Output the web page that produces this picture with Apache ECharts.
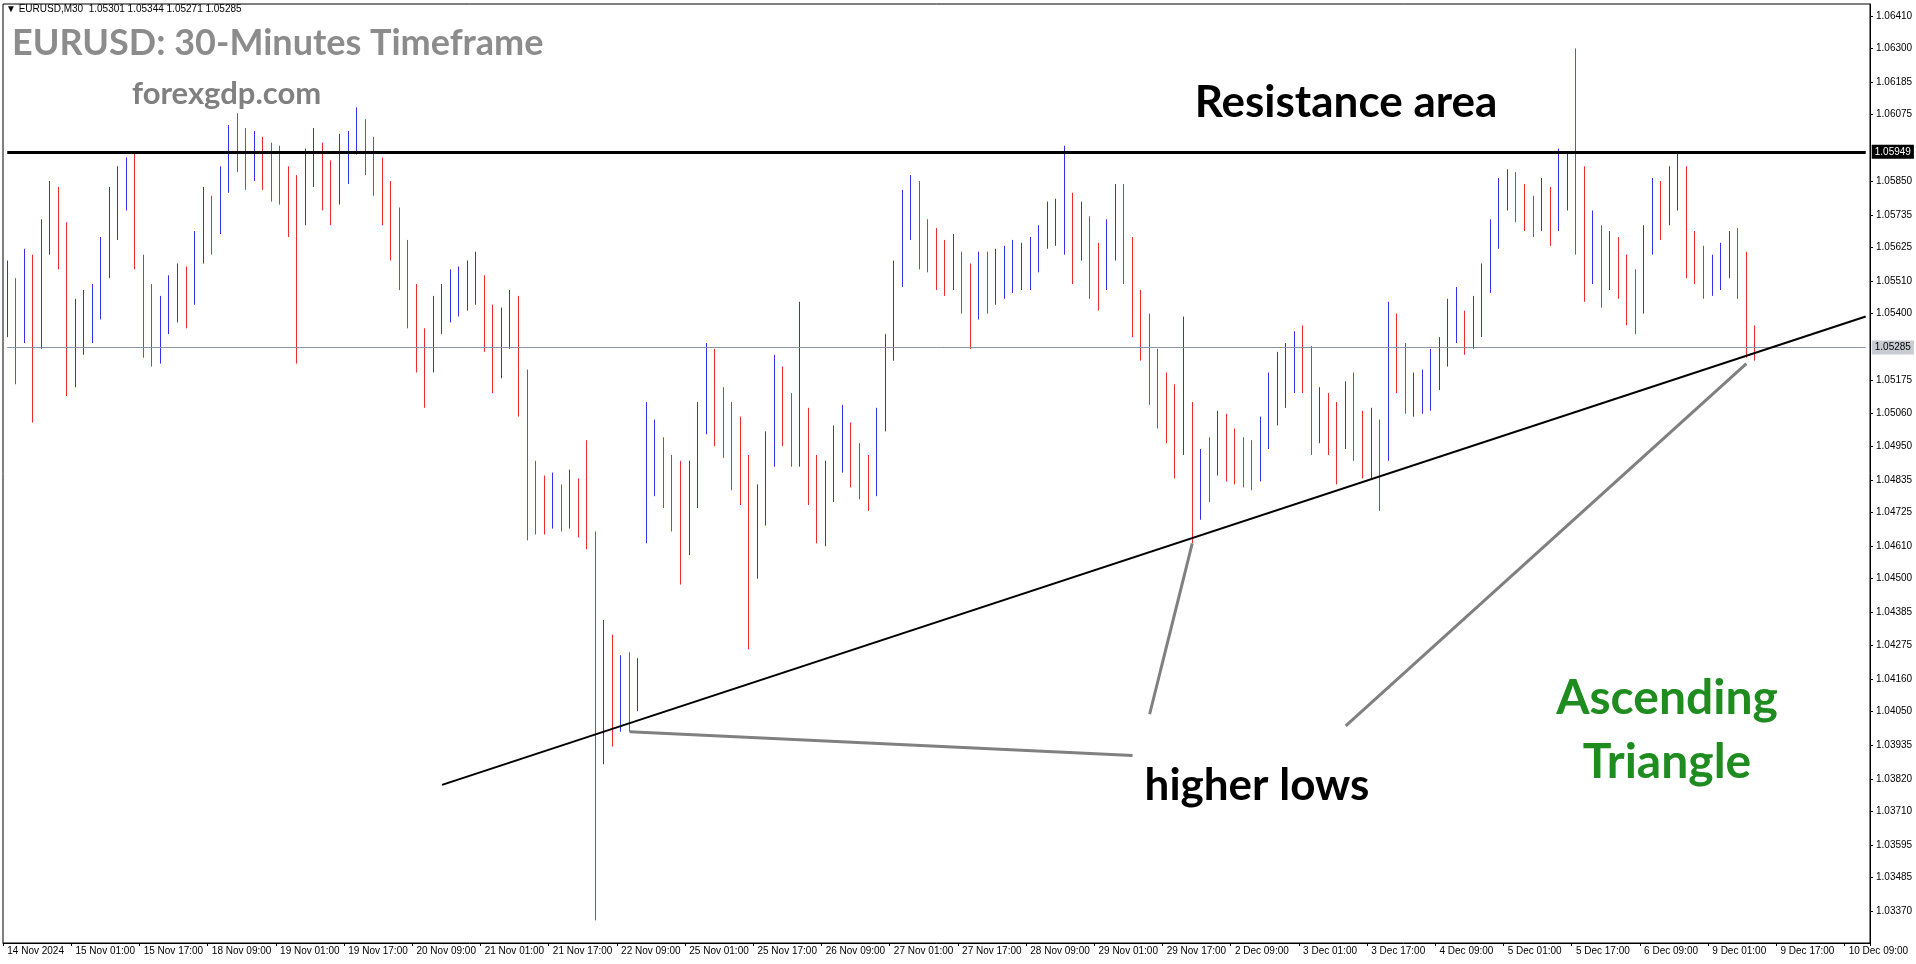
<!DOCTYPE html>
<html lang="en">
<head>
<meta charset="UTF-8">
<title>EURUSD M30</title>
<script src="https://cdn.jsdelivr.net/npm/echarts@6/dist/echarts.min.js"></script>
<style>
    html, body { margin: 0; padding: 0; background: #fff; }
    #chart { width: 1916px; height: 964px; }
</style>
</head>
<body>
<div id="chart"></div>
<script>
    // 2-hour bars
    const closes = [
        1.0546,1.0535,1.0557,1.0530,1.0567,1.0580,1.0569,1.0522,
        1.0533,1.0539,1.0541,1.0555,1.0571,1.0584,1.0590,1.0574,
        1.0546,1.0530,1.0537,1.0544,1.0548,1.0545,1.0561,1.0577,
        1.0571,1.0583,1.0600,1.0598,1.0596,1.0597,1.0593,1.0590,
        1.0588,1.0576,1.0570,1.0591,1.0595,1.0586,1.0580,1.0595,
        1.0597,1.0604,1.0597,1.0590,1.0582,1.0571,1.0563,1.0550,
        1.0535,1.0524,1.0538,1.0543,1.0547,1.0548,1.0551,1.0553,
        1.0540,1.0521,1.0533,1.0540,1.0518,1.0483,1.0478,1.0474,
        1.0478,1.0474,1.0481,1.0474,1.0466,1.0413,1.0429,1.0405,
        1.0418,1.0413,1.0419,1.0488,1.0492,1.0488,1.0483,1.0463,
        1.0475,1.0502,1.0523,1.0509,1.0505,1.0497,1.0489,1.0448,
        1.0471,1.0492,1.0517,1.0509,1.0500,1.0505,1.0488,1.0476,
        1.0480,1.0496,1.0500,1.0492,1.0488,1.0480,1.0505,1.0526,
        1.0551,1.0575,1.0579,1.0567,1.0563,1.0559,1.0555,1.0559,
        1.0551,1.0542,1.0555,1.0551,1.0553,1.0555,1.0557,1.0557,
        1.0559,1.0565,1.0571,1.0571,1.0575,1.0563,1.0569,1.0559,
        1.0555,1.0563,1.0575,1.0563,1.0542,1.0534,1.0521,1.0513,
        1.0509,1.0496,1.0513,1.0471,1.0492,1.0488,1.0500,1.0496,
        1.0492,1.0490,1.0486,1.0496,1.0513,1.0513,1.0521,1.0526,
        1.0525,1.0505,1.0509,1.0505,1.0496,1.0509,1.0505,1.0492,
        1.0496,1.0488,1.0534,1.0526,1.0513,1.0513,1.0513,1.0521,
        1.0525,1.0534,1.0538,1.0534,1.0538,1.0550,1.0567,1.0579,
        1.0584,1.0580,1.0575,1.0573,1.0580,1.0571,1.0584,1.0588,
        1.0580,1.0555,1.0563,1.0550,1.0559,1.0555,1.0546,1.0538,
        1.0563,1.0580,1.0575,1.0584,1.0588,1.0563,1.0559,1.0553,
        1.0553,1.0557,1.0561,1.0559,1.0534,1.0528
    ];
    const lows = [
        1.0532,1.0516,1.0530,1.0503,1.0528,1.0560,1.0555,1.0512,
        1.0515,1.0526,1.0530,1.0538,1.0552,1.0565,1.0575,1.0555,
        1.0525,1.0522,1.0523,1.0533,1.0537,1.0535,1.0543,1.0557,
        1.0560,1.0567,1.0581,1.0588,1.0582,1.0585,1.0582,1.0578,
        1.0577,1.0566,1.0523,1.0570,1.0583,1.0575,1.0570,1.0577,
        1.0584,1.0594,1.0587,1.0580,1.0570,1.0558,1.0548,1.0535,
        1.0520,1.0508,1.0520,1.0533,1.0537,1.0539,1.0541,1.0543,
        1.0527,1.0513,1.0518,1.0528,1.0505,1.0463,1.0465,1.0465,
        1.0467,1.0466,1.0467,1.0464,1.0460,1.0334,1.0387,1.0393,
        1.0398,1.0398,1.0405,1.0462,1.0478,1.0474,1.0466,1.0448,
        1.0458,1.0474,1.0499,1.0495,1.0491,1.0480,1.0475,1.0426,
        1.0450,1.0468,1.0488,1.0495,1.0488,1.0488,1.0475,1.0462,
        1.0461,1.0476,1.0486,1.0481,1.0477,1.0473,1.0478,1.0500,
        1.0524,1.0549,1.0565,1.0555,1.0554,1.0548,1.0546,1.0548,
        1.0540,1.0528,1.0538,1.0540,1.0543,1.0545,1.0547,1.0548,
        1.0548,1.0554,1.0562,1.0563,1.0560,1.0550,1.0558,1.0545,
        1.0541,1.0548,1.0558,1.0550,1.0532,1.0524,1.0509,1.0501,
        1.0496,1.0484,1.0492,1.0462,1.0470,1.0476,1.0485,1.0483,
        1.0482,1.0481,1.0480,1.0483,1.0494,1.0502,1.0508,1.0513,
        1.0513,1.0492,1.0496,1.0492,1.0482,1.0494,1.0490,1.0484,
        1.0484,1.0473,1.0490,1.0513,1.0506,1.0505,1.0506,1.0507,
        1.0514,1.0522,1.0530,1.0526,1.0528,1.0532,1.0547,1.0562,
        1.0575,1.0571,1.0568,1.0566,1.0568,1.0563,1.0568,1.0575,
        1.0560,1.0544,1.0550,1.0542,1.0548,1.0545,1.0536,1.0533,
        1.0540,1.0560,1.0565,1.0570,1.0575,1.0552,1.0550,1.0545,
        1.0546,1.0548,1.0552,1.0545,1.0525,1.0524
    ];
    const highs = [
        1.0558,1.0552,1.0562,1.0560,1.0572,1.0585,1.0583,1.0571,
        1.0545,1.0548,1.0550,1.0566,1.0583,1.0590,1.0593,1.0595,
        1.0560,1.0550,1.0546,1.0553,1.0557,1.0556,1.0568,1.0583,
        1.0580,1.0590,1.0604,1.0608,1.0603,1.0602,1.0600,1.0598,
        1.0597,1.0590,1.0587,1.0596,1.0603,1.0598,1.0592,1.0601,
        1.0602,1.0610,1.0606,1.0600,1.0593,1.0585,1.0576,1.0565,
        1.0550,1.0535,1.0546,1.0550,1.0555,1.0556,1.0558,1.0561,
        1.0553,1.0543,1.0542,1.0548,1.0546,1.0521,1.0490,1.0485,
        1.0486,1.0482,1.0487,1.0484,1.0497,1.0466,1.0436,1.0431,
        1.0424,1.0425,1.0423,1.0510,1.0504,1.0498,1.0492,1.0490,
        1.0490,1.0510,1.0530,1.0528,1.0515,1.0510,1.0505,1.0492,
        1.0482,1.0500,1.0526,1.0522,1.0513,1.0544,1.0508,1.0492,
        1.0490,1.0502,1.0509,1.0503,1.0496,1.0492,1.0508,1.0533,
        1.0558,1.0582,1.0587,1.0585,1.0572,1.0569,1.0565,1.0567,
        1.0561,1.0557,1.0561,1.0561,1.0562,1.0563,1.0565,1.0564,
        1.0566,1.0570,1.0578,1.0579,1.0597,1.0581,1.0578,1.0573,
        1.0564,1.0572,1.0584,1.0584,1.0566,1.0548,1.0540,1.0528,
        1.0520,1.0516,1.0539,1.0510,1.0494,1.0498,1.0507,1.0506,
        1.0501,1.0498,1.0497,1.0505,1.0520,1.0527,1.0530,1.0534,
        1.0536,1.0529,1.0515,1.0513,1.0510,1.0517,1.0520,1.0507,
        1.0508,1.0504,1.0544,1.0540,1.0530,1.0520,1.0521,1.0528,
        1.0532,1.0545,1.0549,1.0541,1.0546,1.0557,1.0572,1.0586,
        1.0589,1.0588,1.0584,1.0580,1.0586,1.0583,1.0596,1.0595,
        1.0630,1.0590,1.0575,1.0570,1.0568,1.0566,1.0560,1.0555,
        1.0570,1.0586,1.0585,1.0590,1.0595,1.0590,1.0568,1.0563,
        1.0560,1.0564,1.0568,1.0569,1.0561,1.0536
    ];
    const firstOpen = 1.0538;

    // one label every 8 bars (16 hours)
    const timeLabels = [
        '14 Nov 2024','15 Nov 01:00','15 Nov 17:00','18 Nov 09:00','19 Nov 01:00','19 Nov 17:00',
        '20 Nov 09:00','21 Nov 01:00','21 Nov 17:00','22 Nov 09:00','25 Nov 01:00','25 Nov 17:00',
        '26 Nov 09:00','27 Nov 01:00','27 Nov 17:00','28 Nov 09:00','29 Nov 01:00','29 Nov 17:00',
        '2 Dec 09:00','3 Dec 01:00','3 Dec 17:00','4 Dec 09:00','5 Dec 01:00','5 Dec 17:00',
        '6 Dec 09:00','9 Dec 01:00','9 Dec 17:00','10 Dec 09:00'
    ];
    const priceTicks = [
        1.06410,1.06300,1.06185,1.06075,1.05850,1.05735,1.05625,1.05510,1.05400,
        1.05175,1.05060,1.04950,1.04835,1.04725,1.04610,1.04500,1.04385,1.04275,
        1.04160,1.04050,1.03935,1.03820,1.03710,1.03595,1.03485,1.03370,1.03260
    ];
    const resistance = 1.05949;
    const lastPrice = 1.05285;
    const trendLine = [[51, 1.0380], [218, 1.0539]];
    const pointers = [
        [[73, 1.0398], [132, 1.0390]],
        [[139, 1.0462], [134, 1.0404]],
        [[204, 1.0523], [157, 1.0400]]
    ];

    const slots = 219;
    const categories = [];
    for (let i = 0; i < slots; i++) {
        categories.push(i % 8 === 0 ? timeLabels[i / 8] : '');
    }
    const bars = closes.map((c, i) => [i === 0 ? firstOpen : closes[i - 1], c, lows[i], highs[i]]);

    const hLabel = (bg, fg, txt) => ({
        show: true, position: 'end', formatter: txt, color: fg, backgroundColor: bg, padding: [2, 3],
        fontSize: 10, fontFamily: 'Liberation Sans', distance: 6
    });
    const hLine = (v, color, width, bg, fg) => [
        { coord: [0, v], lineStyle: { color: color, width: width, type: 'solid' }, label: hLabel(bg, fg, v.toFixed(5)) },
        { coord: [slots - 1, v] }
    ];

    const chart = echarts.init(document.getElementById('chart'));
    chart.setOption({
        animation: false,
        backgroundColor: '#fff',
        grid: { left: 3, right: 46, top: 4, bottom: 21, show: true, borderColor: '#000', borderWidth: 1 },
        xAxis: {
            type: 'category',
            data: categories,
            boundaryGap: true,
            axisLine: { lineStyle: { color: '#000' } },
            axisTick: { show: true, interval: (i) => i % 8 === 0, length: 3, lineStyle: { color: '#000' } },
            axisLabel: {
                interval: 0, align: 'left', margin: 3,
                fontFamily: 'Liberation Sans', fontSize: 10, color: '#000'
            },
            splitLine: { show: false }
        },
        yAxis: {
            type: 'value',
            position: 'right',
            min: 1.03263,
            max: 1.06451,
            axisLine: { show: true, lineStyle: { color: '#000' } },
            axisTick: { show: true, customValues: priceTicks, length: 3, lineStyle: { color: '#000' } },
            axisLabel: {
                customValues: priceTicks, margin: 6,
                fontFamily: 'Liberation Sans', fontSize: 10, color: '#000',
                formatter: (v) => v.toFixed(5)
            },
            splitLine: { show: false }
        },
        series: [{
            type: 'candlestick',
            data: bars,
            barWidth: 1,
            itemStyle: { color: '#3030ee', color0: '#ee2a2a', borderColor: '#3030ee', borderColor0: '#ee2a2a', borderWidth: 1 },
            markLine: {
                symbol: 'none',
                silent: true,
                data: [
                    hLine(lastPrice, '#8a95a5', 1, '#c8ccd2', '#000'),
                    hLine(resistance, '#000', 3, '#000', '#fff'),
                    [{ coord: trendLine[0], lineStyle: { color: '#000', width: 2, type: 'solid' }, label: { show: false } },
                     { coord: trendLine[1] }],
                    ...pointers.map(p => [
                        { coord: p[0], lineStyle: { color: '#808080', width: 3, type: 'solid' }, label: { show: false } },
                        { coord: p[1] }
                    ])
                ]
            }
        }],
        graphic: [
            { type: 'text', x: 6, y: 4, style: { text: '\u25BC EURUSD,M30  1.05301 1.05344 1.05271 1.05285', font: '10px Liberation Sans', fill: '#000' } },
            { type: 'text', x: 12, y: 43, style: { text: 'EURUSD: 30-Minutes Timeframe', font: 'bold 36px Lato', fill: '#8c8c8c', verticalAlign: 'middle' } },
            { type: 'text', x: 132, y: 94, style: { text: 'forexgdp.com', font: 'bold 31px Lato', fill: '#808080', verticalAlign: 'middle' } },
            { type: 'text', x: 1346, y: 103, style: { text: 'Resistance area', font: 'bold 44px Lato', fill: '#000', align: 'center', verticalAlign: 'middle' } },
            { type: 'text', x: 1257, y: 786, style: { text: 'higher lows', font: 'bold 44px Lato', fill: '#000', align: 'center', verticalAlign: 'middle' } },
            { type: 'text', x: 1667, y: 699, style: { text: 'Ascending', font: 'bold 48px Lato', fill: '#1e8c1e', align: 'center', verticalAlign: 'middle' } },
            { type: 'text', x: 1667, y: 763, style: { text: 'Triangle', font: 'bold 48px Lato', fill: '#1e8c1e', align: 'center', verticalAlign: 'middle' } }
        ]
    });
</script>
</body>
</html>
